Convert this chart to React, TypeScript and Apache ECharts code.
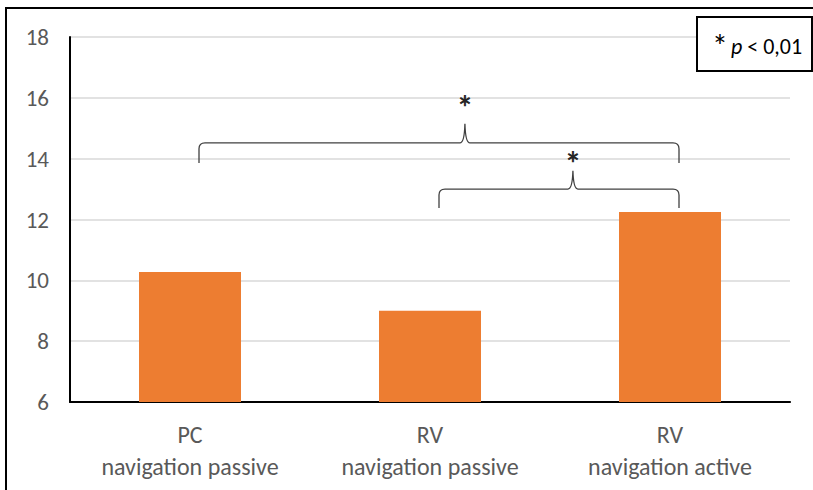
import React, { useEffect, useRef } from "react";
import * as echarts from "echarts";

const categories = ["PC\nnavigation passive", "RV\nnavigation passive", "RV\nnavigation active"];
const values = [10.27, 9.0, 12.25];
const yTicks = { min: 6, max: 18, interval: 2 };
// brackets: [fromCategory, toCategory, lineValue, endValue, peakValue, starValue, peakPosition(0..1 along bracket)]
const brackets = [
  [0, 2, 14.52, 13.86, 15.15, 15.93, 0.554],
  [1, 2, 13.0, 12.38, 13.6, 14.09, 0.558],
];
const legendText = "p < 0,01";

const FONT = "Carlito, 'Liberation Sans', Arial, sans-serif";

export default function App() {
  const ref = useRef<HTMLDivElement>(null);
  useEffect(() => {
    document.body.style.margin = "0";
    const chart = echarts.init(ref.current!, null, { renderer: "svg" });
    const option: any = {
      animation: false,
      backgroundColor: "#ffffff",
      grid: { left: 70, right: 23, top: 37, bottom: 88 },
      xAxis: {
        type: "category",
        data: categories,
        axisLine: { show: true, lineStyle: { color: "#000000", width: 2.2 } },
        axisTick: { show: false },
        axisLabel: {
          color: "#595959",
          fontSize: 24,
          fontFamily: FONT,
          lineHeight: 32,
          margin: 16,
          interval: 0,
        },
      },
      yAxis: {
        type: "value",
        min: yTicks.min,
        max: yTicks.max,
        interval: yTicks.interval,
        axisLine: { show: true, lineStyle: { color: "#000000", width: 2 } },
        axisTick: { show: false },
        axisLabel: { color: "#595959", fontSize: 23, fontFamily: FONT, margin: 21 },
        splitLine: { show: true, lineStyle: { color: "#d9d9d9", width: 1.5 } },
      },
      series: [
        {
          type: "bar",
          data: values,
          barWidth: "42.5%",
          itemStyle: { color: "#ED7D31" },
          z: 2,
        },
        {
          type: "custom",
          data: brackets,
          encode: { x: [0, 1], y: [2, 3, 4, 5] },
          z: 5,
          renderItem: (params: any, api: any) => {
            const off = 9;
            const a = api.coord([api.value(0), api.value(2)]);
            const b = api.coord([api.value(1), api.value(2)]);
            const x1 = a[0] + off;
            const x2 = b[0] + off;
            const yL = a[1];
            const yE = api.coord([api.value(0), api.value(3)])[1];
            const yP = api.coord([api.value(0), api.value(4)])[1];
            const yS = api.coord([api.value(0), api.value(5)])[1];
            const xm = x1 + (x2 - x1) * api.value(6);
            const r = 6;
            const d =
              `M${x1},${yE} L${x1},${yL + r} Q${x1},${yL} ${x1 + r},${yL} ` +
              `L${xm - 5},${yL} Q${xm - 0.5},${yL} ${xm},${yP} Q${xm + 0.5},${yL} ${xm + 5},${yL} ` +
              `L${x2 - r},${yL} Q${x2},${yL} ${x2},${yL + r} L${x2},${yE}`;
            return {
              type: "group",
              children: [
                {
                  type: "path",
                  shape: { pathData: d },
                  style: { fill: "none", stroke: "#404040", lineWidth: 1.3 },
                },
                {
                  type: "text",
                  x: xm,
                  y: yS + 8,
                  style: {
                    text: "*",
                    fill: "#262626",
                    font: `bold 34px ${FONT}`,
                    align: "center",
                    verticalAlign: "middle",
                  },
                },
              ],
            };
          },
        },
      ],
      graphic: [
        {
          type: "line",
          shape: { x1: 6, y1: 8, x2: 6, y2: 490 },
          style: { stroke: "#000000", lineWidth: 2 },
        },
        {
          type: "line",
          shape: { x1: 5, y1: 8, x2: 813, y2: 8 },
          style: { stroke: "#000000", lineWidth: 2 },
        },
        {
          type: "rect",
          shape: { x: 697, y: 17, width: 115, height: 54 },
          style: { fill: "#ffffff", stroke: "#000000", lineWidth: 2 },
          z: 10,
        },
        {
          type: "text",
          x: 720,
          y: 46,
          z: 11,
          style: {
            text: "*",
            fill: "#000000",
            font: `32px ${FONT}`,
            align: "center",
            verticalAlign: "middle",
          },
        },
        {
          type: "text",
          x: 731,
          y: 46,
          z: 11,
          style: {
            text: "{i|p} " + legendText.slice(2),
            fill: "#000000",
            font: `22px ${FONT}`,
            align: "left",
            verticalAlign: "middle",
            rich: {
              i: { fontStyle: "italic", fontSize: 22, fontFamily: FONT, fill: "#000000" },
            },
          },
        },
      ],
    };
    chart.setOption(option);
    return () => chart.dispose();
  }, []);
  return <div ref={ref} style={{ width: 813, height: 490 }} />;
}
